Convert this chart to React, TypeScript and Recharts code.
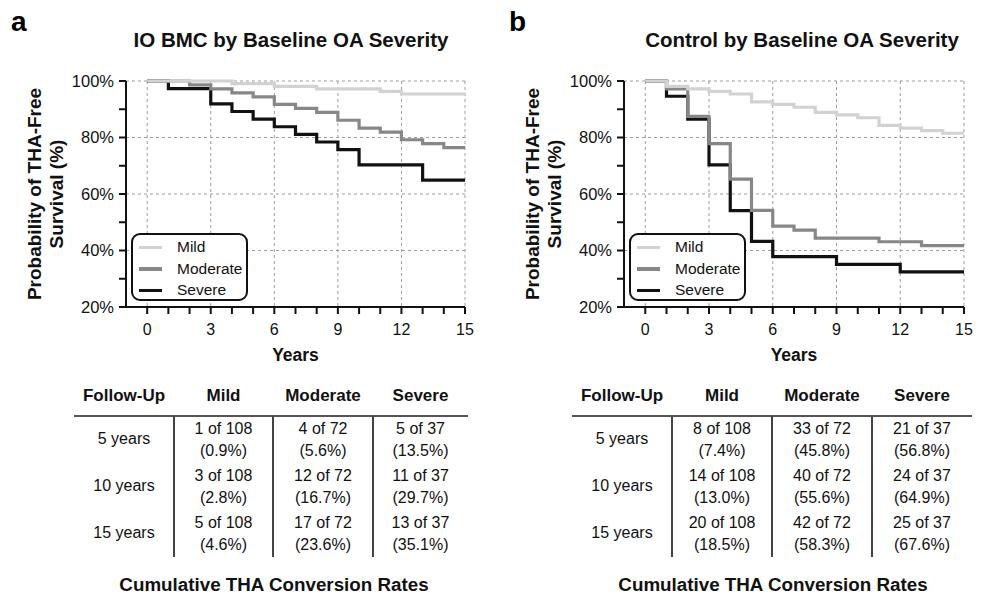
import React from 'react'
import { LineChart, Line, XAxis, YAxis, CartesianGrid, Legend } from 'recharts'

const yearTicks = [0, 1, 2, 3, 4, 5, 6, 7, 8, 9, 10, 11, 12, 13, 14, 15]
const pctTicks = [20, 30, 40, 50, 60, 70, 80, 90, 100]
const gridX = [0, 3, 6, 9, 12, 15]
const gridY = [40, 60, 80, 100]

const seriesNames = ['Mild', 'Moderate', 'Severe']
const seriesColors = ['#d2d2d2', '#878787', '#111111']

// a: IO BMC
const ioMildT = [0, 4, 6, 8, 11, 12, 15]
const ioMildS = [100, 99.1, 98.1, 97.2, 96.3, 95.4, 95.4]
const ioModT = [0, 2, 3, 4, 5, 6, 7, 8, 9, 10, 11, 12, 13, 14, 15]
const ioModS = [100, 98.6, 97.2, 95.8, 94.4, 91.7, 90.3, 88.9, 86.1, 83.3, 81.9, 79.2, 77.8, 76.4, 76.4]
const ioSevT = [0, 1, 3, 4, 5, 6, 7, 8, 9, 10, 13, 15]
const ioSevS = [100, 97.3, 91.9, 89.2, 86.5, 83.8, 81.1, 78.4, 75.7, 70.3, 64.9, 64.9]

// b: Control
const ctMildT = [0, 1, 2, 3, 4, 5, 6, 7, 8, 9, 10, 11, 12, 13, 14, 15]
const ctMildS = [100, 98.1, 97.2, 96.3, 95.4, 92.6, 91.7, 90.7, 88.9, 88.0, 87.0, 84.3, 83.3, 82.4, 81.5, 81.5]
const ctModT = [0, 1, 2, 3, 4, 5, 6, 7, 8, 11, 13, 15]
const ctModS = [100, 97.2, 87.5, 77.8, 65.3, 54.2, 48.6, 47.2, 44.4, 43.1, 41.7, 41.7]
const ctSevT = [0, 1, 2, 3, 4, 5, 6, 9, 12, 15]
const ctSevS = [100, 94.6, 86.5, 70.3, 54.1, 43.2, 37.8, 35.1, 32.4, 32.4]

// tables
const tableHead = ['Follow-Up', 'Mild', 'Moderate', 'Severe']
const followUp = ['5 years', '10 years', '15 years']
const ioCounts = [['1 of 108', '4 of 72', '5 of 37'], ['3 of 108', '12 of 72', '11 of 37'], ['5 of 108', '17 of 72', '13 of 37']]
const ioPcts = [['(0.9%)', '(5.6%)', '(13.5%)'], ['(2.8%)', '(16.7%)', '(29.7%)'], ['(4.6%)', '(23.6%)', '(35.1%)']]
const ctCounts = [['8 of 108', '33 of 72', '21 of 37'], ['14 of 108', '40 of 72', '24 of 37'], ['20 of 108', '42 of 72', '25 of 37']]
const ctPcts = [['(7.4%)', '(45.8%)', '(56.8%)'], ['(13.0%)', '(55.6%)', '(64.9%)'], ['(18.5%)', '(58.3%)', '(67.6%)']]

const FONT = '"Liberation Sans", Arial, Helvetica, sans-serif'
const INK = '#111'

const pts = (t: number[], s: number[]) => t.map((x, i) => ({ t: x, s: s[i] }))

function T({ x, y, size, bold, children, anchor = 'middle' }: any) {
  const tx = anchor === 'middle' ? 'translateX(-50%)' : anchor === 'end' ? 'translateX(-100%)' : 'none'
  return (
    <div style={{ position: 'absolute', left: x, top: y - size / 2, fontSize: size, lineHeight: size + 'px', fontWeight: bold ? 700 : 400, whiteSpace: 'nowrap', transform: tx, color: INK }}>
      {children}
    </div>
  )
}

function LegendBox() {
  return (
    <div style={{ width: 117, height: 68, border: `2px solid ${INK}`, borderRadius: 9, boxSizing: 'border-box', position: 'relative', background: '#fff', fontFamily: FONT }}>
      {seriesNames.map((n, i) => (
        <div key={n}>
          <div style={{ position: 'absolute', left: 6, top: 12 + i * 21.5 - 1.5, width: 23, height: 3.5, background: seriesColors[i] }} />
          <div style={{ position: 'absolute', left: 44, top: 12 + i * 21.5 - 8, fontSize: 15.5, lineHeight: '16px', color: INK }}>{n}</div>
        </div>
      ))}
    </div>
  )
}

function Survival({ left, width, marginLeft, marginRight, legendLeft, sets }: any) {
  // draw order: Severe, Moderate, Mild (mild on top)
  const order = [2, 1, 0]
  return (
    <div style={{ position: 'absolute', left, top: 0 }}>
      <LineChart width={width} height={400} margin={{ top: 81, right: marginRight, left: marginLeft, bottom: 39 }}>
        <CartesianGrid stroke="#9d9d9d" strokeDasharray="3 3" verticalValues={gridX} horizontalValues={gridY} />
        <XAxis
          dataKey="t"
          type="number"
          domain={[-1, 15]}
          ticks={yearTicks}
          interval={0}
          height={54}
          tickFormatter={(v: number) => (v % 3 === 0 ? String(v) : '')}
          tick={{ fill: INK, fontSize: 16, fontFamily: FONT }}
          tickSize={7}
          tickMargin={10}
          axisLine={{ stroke: INK, strokeWidth: 2 }}
          tickLine={{ stroke: INK, strokeWidth: 2 }}
          label={{ value: 'Years', position: 'insideBottom', offset: 0, style: { fontWeight: 700, fontSize: 17.5, fill: INK, fontFamily: FONT } }}
        />
        <YAxis
          type="number"
          domain={[20, 100]}
          ticks={pctTicks}
          interval={0}
          width={60}
          tickFormatter={(v: number) => (v % 20 === 0 ? v + '%' : '')}
          tick={{ fill: INK, fontSize: 16.5, fontFamily: FONT }}
          tickSize={7}
          tickMargin={5}
          axisLine={{ stroke: INK, strokeWidth: 2 }}
          tickLine={{ stroke: INK, strokeWidth: 2 }}
        />
        {order.map((i) => (
          <Line
            key={seriesNames[i]}
            name={seriesNames[i]}
            data={sets[i]}
            dataKey="s"
            type="stepAfter"
            stroke={seriesColors[i]}
            strokeWidth={3.2}
            dot={false}
            activeDot={false}
            isAnimationActive={false}
          />
        ))}
        <Legend
          layout="horizontal"
          verticalAlign="middle"
          align="center"
          wrapperStyle={{ left: legendLeft, top: 233, width: 117, height: 68 }}
          content={() => <LegendBox />}
        />
      </LineChart>
    </div>
  )
}

function Table({ cols, counts, pcts, captionX }: any) {
  const centers = [0, 1, 2, 3].map((i) => (cols[i] + cols[i + 1]) / 2)
  const rowY = [439, 486, 533]
  return (
    <>
      {tableHead.map((h, i) => (
        <T key={h} x={centers[i]} y={395} size={17} bold>{h}</T>
      ))}
      <div style={{ position: 'absolute', left: cols[0], top: 415, width: cols[4] - cols[0], height: 1.5, background: '#555' }} />
      {[1, 2, 3].map((i) => (
        <div key={i} style={{ position: 'absolute', left: cols[i] - 0.75, top: 416, width: 1.5, height: 141, background: '#444' }} />
      ))}
      {followUp.map((f, r) => (
        <React.Fragment key={f}>
          <T x={centers[0]} y={rowY[r]} size={16}>{f}</T>
          {[0, 1, 2].map((c) => (
            <React.Fragment key={c}>
              <T x={centers[c + 1]} y={rowY[r] - 10.5} size={16}>{counts[r][c]}</T>
              <T x={centers[c + 1]} y={rowY[r] + 11.5} size={16}>{pcts[r][c]}</T>
            </React.Fragment>
          ))}
        </React.Fragment>
      ))}
      <T x={captionX} y={585} size={18.8} bold>Cumulative THA Conversion Rates</T>
    </>
  )
}

function YLabel({ x, y }: any) {
  return (
    <div style={{ position: 'absolute', left: x, top: y, transform: 'translate(-50%, -50%) rotate(-90deg)', fontSize: 19, lineHeight: '22px', fontWeight: 700, textAlign: 'center', whiteSpace: 'nowrap', color: INK }}>
      Probability of THA-Free
      <br />
      Survival (%)
    </div>
  )
}

export default function App() {
  const ioSets = [pts(ioMildT, ioMildS), pts(ioModT, ioModS), pts(ioSevT, ioSevS)]
  const ctSets = [pts(ctMildT, ctMildS), pts(ctModT, ctModS), pts(ctSevT, ctSevS)]
  return (
    <div style={{ position: 'absolute', left: 0, top: 0, width: 981, height: 597, background: '#fff', fontFamily: FONT, overflow: 'hidden' }}>
      <div style={{ position: 'absolute', left: 11, top: 8, fontSize: 28, lineHeight: '28px', fontWeight: 700 }}>a</div>
      <div style={{ position: 'absolute', left: 509, top: 8, fontSize: 28, lineHeight: '28px', fontWeight: 700 }}>b</div>
      <T x={291} y={40} size={20.5} bold>IO BMC by Baseline OA Severity</T>
      <T x={802} y={40} size={20.5} bold>Control by Baseline OA Severity</T>

      <YLabel x={46} y={194} />
      <YLabel x={544} y={194} />

      <Survival left={0} width={500} marginLeft={66} marginRight={35} legendLeft={131} sets={ioSets} />
      <Survival left={500} width={481} marginLeft={64} marginRight={17} legendLeft={129} sets={ctSets} />

      <Table cols={[74, 174, 273, 373, 468]} counts={ioCounts} pcts={ioPcts} captionX={274} />
      <Table cols={[572, 672, 772, 872, 972]} counts={ctCounts} pcts={ctPcts} captionX={773} />
    </div>
  )
}
